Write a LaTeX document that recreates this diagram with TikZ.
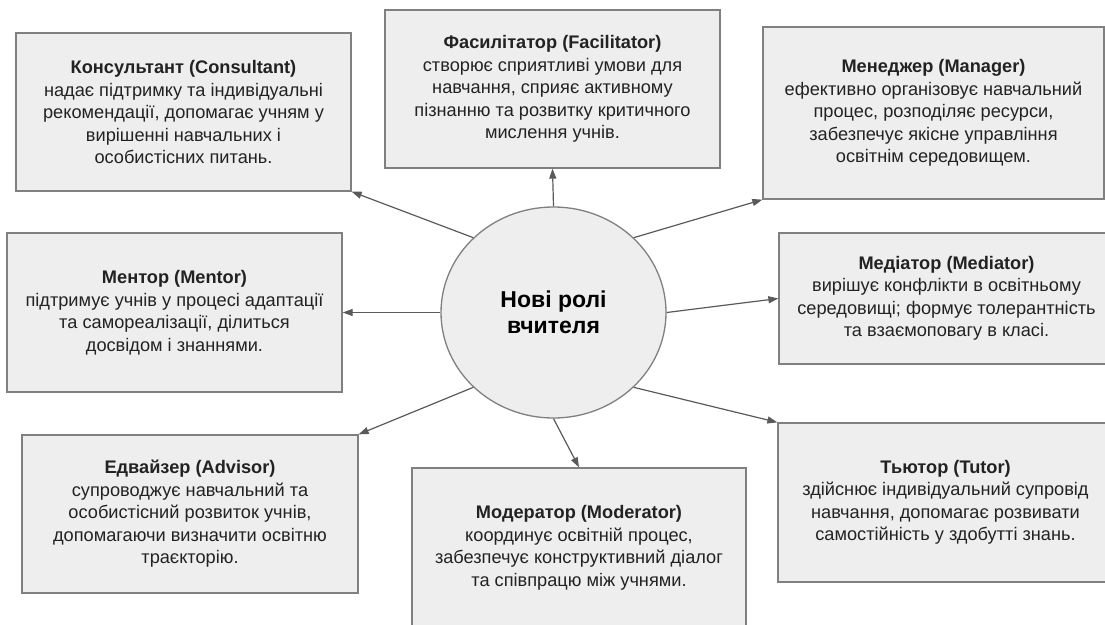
\documentclass[tikz,border=0pt]{standalone}
\usepackage{fontspec}
\setmainfont{Liberation Sans}
\usetikzlibrary{shapes.geometric,arrows.meta}
\definecolor{boxfill}{HTML}{EEEEEE}
\definecolor{boxline}{HTML}{808080}
\definecolor{arrowcol}{HTML}{5A5A5A}
\definecolor{txt}{HTML}{222222}
\tikzset{
  rolebox/.style={draw=boxline, line width=1.3pt, fill=boxfill, rectangle, inner sep=0pt,
    minimum width=335pt, minimum height=158pt, align=center, text=txt,
    font=\fontsize{18.2}{22.5}\selectfont},
  hub/.style={draw=boxline, line width=1.3pt, fill=boxfill, ellipse, inner sep=0pt,
    minimum width=225pt, minimum height=211pt, align=center, text=black,
    font=\fontsize{23}{26}\selectfont\bfseries},
  link/.style={draw=arrowcol, line width=1.2pt, -{Triangle[length=10pt,width=7pt]}}
}
\begin{document}
\begin{tikzpicture}[x=1pt,y=-1pt]
\useasboundingbox (0,0) rectangle (1105,624);
\clip (0,0) rectangle (1105,624);
\fill[white] (0,0) rectangle (1105,624);

\node[hub] (c) at (553.5,312.5) {Нові ролі\\вчителя};

\node[rolebox] (cons) at (183.5,112) {\textbf{Консультант (Consultant)}\\надає підтримку та індивідуальні\\рекомендації, допомагає учням у\\вирішенні навчальних і\\особистісних питань.};
\node[rolebox] (fac) at (552.5,89) {\textbf{Фасилітатор (Facilitator)}\\створює сприятливі умови для\\навчання, сприяє активному\\пізнанню та розвитку критичного\\мислення учнів.};
\node[rolebox, minimum width=341pt, minimum height=172pt] (man) at (933.5,113) {\textbf{Менеджер (Manager)}\\ефективно організовує навчальний\\процес, розподіляє ресурси,\\забезпечує якісне управління\\освітнім середовищем.};
\node[rolebox, minimum height=159pt] (men) at (174.5,312.5) {\textbf{Ментор (Mentor)}\\підтримує учнів у процесі адаптації\\та самореалізації, ділиться\\досвідом і знаннями.};
\node[rolebox, minimum height=131pt] (med) at (946.5,298.5) {\textbf{Медіатор (Mediator)}\\вирішує конфлікти в освітньому\\середовищі; формує толерантність\\та взаємоповагу в класі.};
\node[rolebox, minimum width=336pt] (adv) at (190,514) {\textbf{Едвайзер (Advisor)}\\супроводжує навчальний та\\особистісний розвиток учнів,\\допомагаючи визначити освітню\\траєкторію.};
\node[rolebox, minimum width=334pt, minimum height=160pt] (mod) at (579,548) {\textbf{Модератор (Moderator)}\\координує освітній процес,\\забезпечує конструктивний діалог\\та співпрацю між учнями.};
\node[rolebox, minimum height=159pt] (tut) at (945.5,502.5) {\textbf{Тьютор (Tutor)}\\здійснює індивідуальний супровід\\навчання, допомагає розвивати\\самостійність у здобутті знань.};

\draw[link] (c.137) -- (cons.south east);
\draw[link] (c.north) -- (fac.south);
\draw[link] (c.43) -- (man.south west);
\draw[link] (c.west) -- (men.east);
\draw[link] (c.east) -- (med.west);
\draw[link] (c.223) -- (adv.north east);
\draw[link] (c.south) -- (mod.north);
\draw[link] (c.317) -- (tut.north west);
\end{tikzpicture}
\end{document}
